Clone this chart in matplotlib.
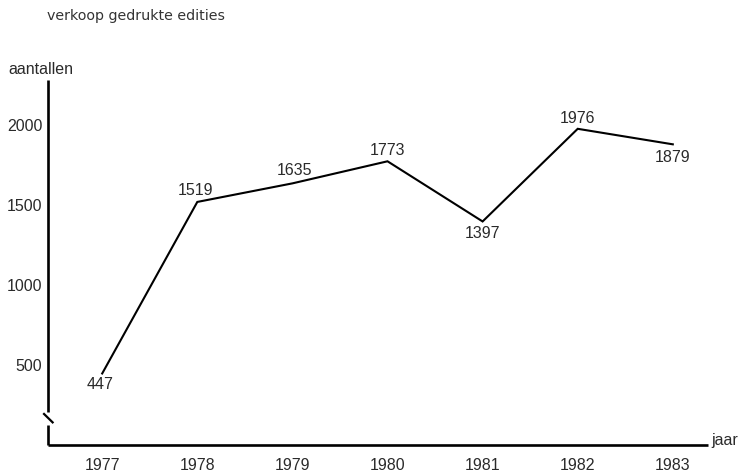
import matplotlib.pyplot as plt

# data
years = [1977, 1978, 1979, 1980, 1981, 1982, 1983]
sales = [447, 1519, 1635, 1773, 1397, 1976, 1879]
y_ticks = [500, 1000, 1500, 2000]
# label placement per point: (dx, dy) in points, relative to the point
label_offsets = [(-1.5, -8), (-1.5, 8), (1.5, 9.5), (0, 7.5), (0, -9), (0, 7.5), (0, -9.5)]

plt.rcParams['font.family'] = ['Liberation Sans', 'DejaVu Sans']

fig = plt.figure(figsize=(7.4, 4.75), dpi=100)
ax = fig.add_axes([48 / 740, 30 / 475, 660 / 740, 365 / 475])

ax.plot(years, sales, color='black', lw=1.5, solid_joinstyle='miter')

for x, y, (dx, dy) in zip(years, sales, label_offsets):
    ax.annotate(str(y), (x, y), xytext=(dx, dy), textcoords='offset points',
                ha='center', va='center', fontsize=11.5, color='#2a2a2a')

ax.set_xlim(1976.43, 1983.37)
ax.set_ylim(0, 2281)
ax.set_xticks(years)
ax.set_yticks(y_ticks)
ax.tick_params(axis='x', length=0, pad=9, labelsize=11.5, labelcolor='#2a2a2a')
ax.tick_params(axis='y', length=0, pad=4, labelsize=11.5, labelcolor='#2a2a2a')

for side in ['top', 'right', 'left']:
    ax.spines[side].set_visible(False)
ax.spines['bottom'].set_linewidth(1.9)
ax.spines['bottom'].set_capstyle('butt')

# y axis drawn by hand with a break near the bottom
kw = dict(transform=ax.transAxes, color='black', lw=1.9, clip_on=False, solid_capstyle='butt')
ax.plot([0, 0], [0, 0.055], **kw)
ax.plot([0, 0], [0.09, 1.0], **kw)
ax.plot([-0.006, 0.007], [0.085, 0.062], transform=ax.transAxes, color='black',
        lw=1.6, clip_on=False)

fig.text(8 / 740, 1 - 70 / 475, 'aantallen', fontsize=11.5, color='#2a2a2a', va='center')
fig.text(47 / 740, 1 - 16 / 475, 'verkoop gedrukte edities', fontsize=10.3,
         family=['DejaVu Sans'], color='#333333', va='center')
fig.text(711 / 740, 1 - 441 / 475, 'jaar', fontsize=11.5, color='#2a2a2a', va='center')

plt.savefig('out.png', dpi=100)
